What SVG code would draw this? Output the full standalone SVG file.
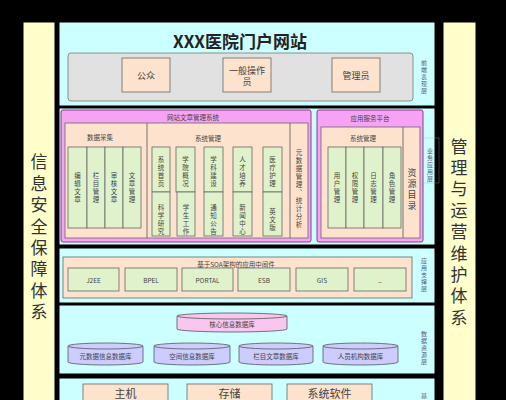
<svg xmlns="http://www.w3.org/2000/svg" width="506" height="400" viewBox="0 0 506 400">
<style>
text{font-family:"Noto Sans CJK SC","Noto Sans",sans-serif;fill:#333;text-anchor:middle;dominant-baseline:central}
.v{writing-mode:vertical-rl;text-orientation:upright}
.panel{fill:#ccffff;stroke:#000;stroke-width:1}
.side{fill:#ffffcc;stroke:#000;stroke-width:1}
.peach{fill:#fde3cd;stroke:#666;stroke-width:0.8}
.green{fill:#e0f2cc;stroke:#666;stroke-width:0.8}
.pink{fill:#f7a3f5;stroke:#8a3c8a;stroke-width:1}
.gray{fill:#e1e1e1;stroke:#777;stroke-width:0.8}
.lbl{font-size:6.5px;fill:#444}
.c{font-size:6.5px;fill:#444;letter-spacing:1.5px}
.vl{font-size:6px;fill:#557;letter-spacing:1px}
.big{font-size:17px;fill:#333;letter-spacing:4.4px}
.db{fill:#ccccff;stroke:#555;stroke-width:0.8}
.dbp{fill:#f9c6f0;stroke:#555;stroke-width:0.8}
.div{stroke:#555;stroke-width:0.8}
</style>
<rect x="0" y="0" width="506" height="400" fill="#000"/>

<g id="left-side">
<rect class="side" x="23" y="22" width="32" height="380"/>
<text class="big v" x="39" y="239">信息安全保障体系</text>
</g>
<g id="right-side">
<rect class="side" x="443" y="22" width="33" height="380"/>
<text class="big v" x="459" y="234">管理与运营维护体系</text>
</g>

<g id="layer-frontend">
<rect class="panel" x="59" y="22" width="376" height="84"/>
<text x="240" y="40" style="font-size:17px;font-weight:bold;fill:#222">XXX医院门户网站</text>
<rect class="gray" x="68" y="53" width="345" height="48" rx="3"/>
<g id="n-public">
<rect class="peach" x="122" y="58" width="48" height="34"/>
<text class="lbl" style="font-size:9px" x="146" y="75">公众</text>
</g>
<g id="n-operator">
<rect class="peach" x="223" y="58" width="48" height="34"/>
<text class="lbl" style="font-size:9px" x="247" y="70">一般操作</text>
<text class="lbl" style="font-size:9px" x="247" y="81">员</text>
</g>
<g id="n-admin">
<rect class="peach" x="332" y="58" width="48" height="34"/>
<text class="lbl" style="font-size:9px" x="356" y="75">管理员</text>
</g>
<text class="vl v" x="424" y="77">前端表现层</text>
</g>

<g id="layer-business">
<rect class="panel" x="59" y="108" width="376" height="137"/>
<g id="cms">
<rect class="pink" x="61" y="110" width="250" height="132" rx="2"/>
<text class="lbl" x="193" y="117">网站文章管理系统</text>
<rect class="peach" x="65" y="123" width="243" height="115"/>
<line class="div" x1="147" y1="123" x2="147" y2="238"/>
<line class="div" x1="290" y1="123" x2="290" y2="238"/>
<text class="lbl" x="100" y="137">数据采集</text>
<rect class="green" x="68" y="147" width="19" height="81"/>
<rect class="green" x="87" y="147" width="18" height="81"/>
<rect class="green" x="105" y="147" width="18" height="81"/>
<rect class="green" x="123" y="147" width="18" height="81"/>
<text class="c v" x="77.5" y="188">编辑文章</text>
<text class="c v" x="96" y="188">栏目管理</text>
<text class="c v" x="114" y="188">审核文章</text>
<text class="c v" x="132" y="188">文章管理</text>
<text class="lbl" x="208" y="138">系统管理</text>
<rect class="green" x="152" y="147" width="18" height="45"/>
<rect class="green" x="152" y="192" width="18" height="44"/>
<rect class="green" x="176" y="147" width="19" height="45"/>
<rect class="green" x="177" y="192" width="18" height="44"/>
<rect class="green" x="204" y="147" width="19" height="45"/>
<rect class="green" x="204" y="192" width="19" height="44"/>
<rect class="green" x="233" y="147" width="19" height="45"/>
<rect class="green" x="233" y="192" width="19" height="44"/>
<rect class="green" x="263" y="147" width="19" height="45"/>
<rect class="green" x="263" y="192" width="19" height="44"/>
<text class="c v" x="161" y="172">系统首页</text>
<text class="c v" x="161" y="220">科学研究</text>
<text class="c v" x="185.5" y="172">学院概况</text>
<text class="c v" x="186" y="220">学生工作</text>
<text class="c v" x="213.5" y="172">学科建设</text>
<text class="c v" x="213.5" y="220">通知公告</text>
<text class="c v" x="242.5" y="172">人才培养</text>
<text class="c v" x="242.5" y="220">新闻中心</text>
<text class="c v" x="272.5" y="172">医疗护理</text>
<text class="c v" x="272.5" y="220">英文版</text>
<text class="c v" x="299" y="189">元数据管理、统计分析</text>
</g>
<g id="app-platform">
<rect class="pink" x="317" y="110" width="106" height="132" rx="2"/>
<text class="lbl" x="370" y="118">应用服务平台</text>
<rect class="peach" x="321" y="127" width="99" height="111"/>
<line class="div" x1="403" y1="127" x2="403" y2="238"/>
<text class="lbl" x="363" y="138">系统管理</text>
<rect class="green" x="328" y="147" width="18" height="81"/>
<rect class="green" x="346" y="147" width="18" height="81"/>
<rect class="green" x="364" y="147" width="19" height="81"/>
<rect class="green" x="383" y="147" width="18" height="81"/>
<text class="c v" x="337" y="188">用户管理</text>
<text class="c v" x="355" y="188">权限管理</text>
<text class="c v" x="373.5" y="188">日志管理</text>
<text class="c v" x="392" y="188">角色管理</text>
<text class="lbl v" style="font-size:9px;letter-spacing:2px" x="412" y="190">资源目录</text>
</g>
<rect x="420" y="138" width="19" height="45" fill="none" stroke="#9ab" stroke-width="0.6" opacity="0.6"/>
<text class="vl v" x="430" y="165">业务应用层</text>
</g>

<g id="layer-middleware">
<rect class="panel" x="59" y="248" width="376" height="55"/>
<rect class="peach" x="63" y="257" width="349" height="41"/>
<text class="lbl" x="236" y="264">基于SOA架构的应用中间件</text>
<g id="n-j2ee"><rect class="green" x="68" y="268" width="51" height="23"/>
<text class="lbl" x="93.5" y="279.5">J2EE</text></g>
<g id="n-bpel"><rect class="green" x="125" y="268" width="52" height="23"/>
<text class="lbl" x="151" y="279.5">BPEL</text></g>
<g id="n-portal"><rect class="green" x="182" y="268" width="51" height="23"/>
<text class="lbl" x="207.5" y="279.5">PORTAL</text></g>
<g id="n-esb"><rect class="green" x="238" y="268" width="52" height="23"/>
<text class="lbl" x="264" y="279.5">ESB</text></g>
<g id="n-gis"><rect class="green" x="296" y="268" width="52" height="23"/>
<text class="lbl" x="322" y="279.5">GIS</text></g>
<g id="n-more"><rect class="green" x="354" y="268" width="52" height="23"/>
<text class="lbl" x="380" y="279.5">..</text></g>
<text class="vl v" x="424" y="275">应用支撑层</text>
</g>

<g id="layer-data">
<rect class="panel" x="59" y="305" width="376" height="69"/>
<g id="db-core">
<path class="dbp" d="M177,316 v13 a55,3 0 0 0 110,0 v-13"/>
<ellipse class="dbp" cx="232" cy="316" rx="55" ry="3"/>
<text class="lbl" x="232" y="324">核心信息数据库</text>
</g>
<g id="db-meta">
<path class="db" d="M68,346 v16 a37.5,3 0 0 0 75,0 v-16"/>
<ellipse class="db" cx="105.5" cy="346" rx="37.5" ry="3"/>
<text class="lbl" x="105.5" y="356">元数据信息数据库</text>
</g>
<g id="db-space">
<path class="db" d="M154,346 v16 a38,3 0 0 0 76,0 v-16"/>
<ellipse class="db" cx="192" cy="346" rx="38" ry="3"/>
<text class="lbl" x="192" y="356">空间信息数据库</text>
</g>
<g id="db-article">
<path class="db" d="M239,346 v16 a37,3 0 0 0 74,0 v-16"/>
<ellipse class="db" cx="276" cy="346" rx="37" ry="3"/>
<text class="lbl" x="276" y="356">栏目文章数据库</text>
</g>
<g id="db-people">
<path class="db" d="M323,346 v16 a37.5,3 0 0 0 75,0 v-16"/>
<ellipse class="db" cx="360.5" cy="346" rx="37.5" ry="3"/>
<text class="lbl" x="360.5" y="356">人员机构数据库</text>
</g>
<text class="vl v" x="424" y="348">数据资源层</text>
</g>

<g id="layer-infra">
<rect class="panel" x="59" y="378" width="376" height="30"/>
<g id="n-host"><rect class="peach" x="83" y="384" width="85" height="20"/>
<text x="125.5" y="393" style="font-size:11px;fill:#444">主机</text></g>
<g id="n-storage"><rect class="peach" x="187" y="384" width="85" height="20"/>
<text x="229.5" y="393" style="font-size:11px;fill:#444">存储</text></g>
<g id="n-syssoft"><rect class="peach" x="287" y="384" width="85" height="20"/>
<text x="329.5" y="393" style="font-size:11px;fill:#444">系统软件</text></g>
<text class="vl v" x="424" y="400">基础</text>
</g>
<g id="connectors"/>
</svg>
